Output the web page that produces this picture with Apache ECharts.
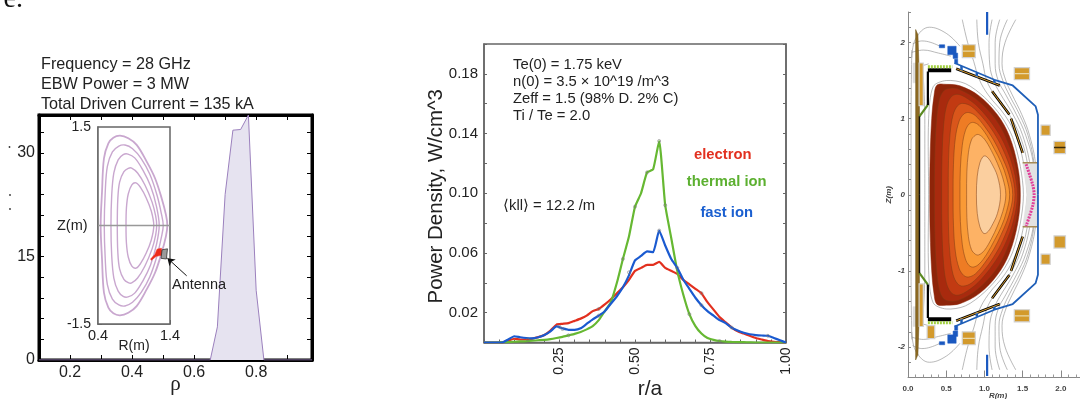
<!DOCTYPE html>
<html>
<head>
<meta charset="utf-8">
<title>EBW power deposition</title>
<script src="https://cdn.jsdelivr.net/npm/echarts@6/dist/echarts.min.js"></script>
<style>
  html, body { margin: 0; padding: 0; background: #fff; }
  #main { width: 1080px; height: 399px; }
</style>
</head>
<body>
<div id="main"></div>
<script>
// left panel: driven current profile
var rho = [0.1, 0.652, 0.675, 0.7, 0.725, 0.75, 0.775, 0.8, 0.825, 0.98];
var drivenCurrent = [0, 0, 4.8, 24, 33.3, 33.4, 35.5, 10.1, 0, 0];
var rhoLabels = [0.2, 0.4, 0.6, 0.8];
var currentLabels = [0, 15, 30];

// inset: flux surfaces, upper half [R, Z], lower half is the mirror image
var surface1 = [[.437,0],[.456,.517],[.483,1.024],[.544,1.252],[.613,1.338],[.706,1.368],[.821,1.328],[.937,1.227],[1.076,.973],[1.192,.72],[1.284,.416],[1.344,.162],[1.363,0]];
var surface2 = [[.487,0],[.5,.5],[.53,.9],[.6,1.12],[.69,1.21],[.775,1.225],[.88,1.17],[1,1.02],[1.12,.78],[1.22,.46],[1.28,.18],[1.306,0]];
var surface3 = [[.58,0],[.59,.45],[.62,.8],[.68,1],[.75,1.08],[.817,1.088],[.91,1.03],[1.02,.85],[1.13,.6],[1.21,.3],[1.25,0]];
var surface4 = [[.668,0],[.675,.4],[.7,.66],[.76,.82],[.82,.87],[.868,.875],[.95,.8],[1.05,.62],[1.15,.36],[1.2,.15],[1.215,0]];
var surface5 = [[.789,0],[.795,.27],[.82,.48],[.87,.62],[.928,.65],[.99,.58],[1.07,.42],[1.14,.22],[1.175,0]];
var midplane = [[.4,0],[1.4,0]];
var rayPath = [[1.13,-.51],[1.19,-.44],[1.22,-.36],[1.28,-.345],[1.3,-.45],[1.21,-.47],[1.14,-.53]];
var antennaBox = [[1.29,-.37],[1.365,-.355],[1.35,-.51],[1.275,-.5]];
var antennaArrow = [[.576,12.2],[.514,14.75]];

// middle panel: power density
var rOverA = [0,.02,.04,.06,.08,.1,.12,.14,.16,.18,.2,.22,.24,.26,.28,.3,.32,.34,.36,.38,.4,.42,.44,.46,.48,.5,.52,.54,.56,.58,.6,.62,.64,.66,.68,.7,.72,.74,.76,.78,.8,.82,.84,.86,.88,.9,.92,.94,.96,.98,1];
var electron = [0,0,0,0,.0012,.0025,.002,.002,.0026,.0036,.005,.008,.012,.0125,.013,.0145,.016,.018,.021,.0225,.0255,.029,.033,.037,.042,.048,.05,.052,.052,.054,.05,.048,.046,.042,.039,.036,.033,.027,.022,.017,.0135,.01,.0075,.006,.0045,.003,.002,.001,.0005,.0002,0];
var thermalIon = [0,0,0,.0002,.0003,.0005,.0007,.0009,.0012,.0015,.0018,.0023,.003,.0038,.0048,.0058,.007,.0088,.011,.015,.021,.027,.04,.056,.071,.091,.1,.114,.116,.135,.092,.07,.048,.032,.019,.011,.006,.003,.0018,.001,.0006,.0004,.0003,.0002,.0001,0,0,0,0,0,0];
var fastIon = [0,0,0,0,.002,.0042,.0035,.003,.0028,.0035,.005,.0075,.0108,.0095,.0085,.0085,.0095,.0125,.0155,.018,.021,.026,.031,.037,.045,.055,.058,.061,.0605,.075,.065,.056,.05,.042,.036,.03,.025,.021,.018,.015,.013,.01,.008,.0065,.0055,.005,.0047,.0045,.003,.0015,0];
var errorMarks = [[.145,.002],[.25,.0105],[.26,.009],[.28,.0048],[.38,.0225],[.38,.018],[.46,.056],[.48,.047],[.5,.091],[.54,.114],[.58,.135],[.58,.075],[.6,.092],[.64,.05],[.68,.019],[.72,.033],[.72,.025],[.78,.001],[.82,.01],[.94,.0045]];
var densityLabels = [.02, .06, .1, .14, .18];
var radiusLabels = [.25, .5, .75, 1];

// right panel: plasma contours, upper half [R, Z], outermost first
var plasmaFills = ['#8e2409', '#a82a0e', '#c23a12', '#d9561b', '#ee7c24', '#f99a36', '#fdb265', '#fbcf9f'];
var contour0 = [[.285,0],[.29,.5],[.31,1],[.34,1.3],[.38,1.44],[.5,1.45],[.68,1.43],[.935,1.295],[1.17,1.05],[1.326,.77],[1.435,.376],[1.47,0]];
var contour1 = [[.345,0],[.35,.5],[.37,.95],[.41,1.25],[.47,1.37],[.56,1.4],[.68,1.38],[.9,1.25],[1.14,1],[1.29,.73],[1.41,.36],[1.45,0]];
var contour2 = [[.44,0],[.445,.5],[.465,.9],[.5,1.15],[.56,1.28],[.64,1.32],[.75,1.28],[.92,1.15],[1.11,.92],[1.26,.67],[1.38,.34],[1.43,0]];
var contour3 = [[.527,0],[.53,.45],[.55,.8],[.59,1.05],[.65,1.17],[.72,1.2],[.83,1.16],[.98,1.01],[1.12,.82],[1.24,.6],[1.35,.31],[1.4,0]];
var contour4 = [[.59,0],[.595,.4],[.62,.75],[.67,.97],[.73,1.06],[.79,1.08],[.88,1.04],[1,.9],[1.12,.72],[1.22,.52],[1.32,.27],[1.37,0]];
var contour5 = [[.68,0],[.685,.35],[.71,.65],[.75,.84],[.8,.93],[.855,.95],[.93,.91],[1.03,.78],[1.13,.6],[1.22,.42],[1.29,.22],[1.33,0]];
var contour6 = [[.767,0],[.77,.3],[.79,.55],[.83,.72],[.88,.78],[.925,.79],[1,.73],[1.09,.58],[1.17,.41],[1.24,.22],[1.28,0]];
var contour7 = [[.895,0],[.906,.245],[.94,.42],[.98,.5],[1.01,.51],[1.05,.48],[1.09,.42],[1.17,.245],[1.21,0]];

// flux lines outside the plasma, from the top of the picture to the midplane
var flux1 = [[.27,0],[.27,1],[.33,1.42],[.5,1.5],[.75,1.46],[1,1.28],[1.22,1.03],[1.37,.75],[1.47,.37],[1.51,0]];
var flux2 = [[.71,2.3],[.78,2],[.86,1.75],[.93,1.52],[1.05,1.31],[1.27,1.04],[1.42,.75],[1.52,.37],[1.56,0]];
var flux3 = [[.9,2.3],[.92,2],[.98,1.72],[1.03,1.5],[1.12,1.33],[1.32,1.06],[1.47,.76],[1.57,.37],[1.61,0]];
var flux4 = [[1.1,2.3],[1.06,2],[1.07,1.7],[1.12,1.5],[1.2,1.34],[1.37,1.06],[1.5,.78],[1.6,.38],[1.64,0]];
var flux5 = [[1.2,2.3],[1.14,2],[1.14,1.72],[1.18,1.5],[1.27,1.33],[1.42,1.05],[1.54,.78],[1.64,.4],[1.66,0]];
var flux6 = [[1.3,2.3],[1.2,2],[1.19,1.72],[1.24,1.5],[1.33,1.3],[1.46,1.05],[1.57,.78],[1.65,.4],[1.67,0]];
var flux7 = [[1.41,2.3],[1.27,2],[1.23,1.72],[1.28,1.5],[1.36,1.32],[1.49,1.05],[1.59,.78],[1.67,.4],[1.69,0]];
var fluxInner = [[.2,1.55],[.22,1],[.22,0]];
var fluxStack = [[.05,1.9],[.04,1],[.04,0]];
var arch1 = [[.05,1.8],[.1,2.05],[.28,2.2],[.5,2.12],[.68,1.95]];
var arch2 = [[.06,1.98],[.18,2.02],[.3,2],[.44,1.94]];
var arch3 = [[.05,1.87],[.2,1.9],[.4,1.86],[.56,1.82]];
var arch4 = [[.07,1.69],[.2,1.7],[.27,1.72]];

// right panel: machine parts, given for the top half and mirrored
var stackBar = [[.1,2.17],[.13,2.1],[.15,1.5],[.15,-1.5],[.13,-2.1],[.1,-2.17]];
var inboardCoil = [[.145,1.73],[.2,1.73],[.2,1.17],[.145,1.17]];
var inboardHalo = [[.065,1.73],[.145,1.73],[.145,1.47],[.065,1.47]];
var lowerCoil = [[.25,-1.72],[.35,-1.72],[.35,-1.89],[.25,-1.89]];
var coilA = [[.71,1.97],[.88,1.97],[.88,1.8],[.71,1.8]];
var coilAGap = [[.71,1.885],[.88,1.885]];
var coilB = [[1.39,1.67],[1.59,1.67],[1.59,1.51],[1.39,1.51]];
var coilBGap = [[1.39,1.59],[1.59,1.59]];
var coilC = [[1.74,.915],[1.86,.915],[1.86,.78],[1.74,.78]];
var coilD = [[1.91,.7],[2.06,.7],[2.06,.54],[1.91,.54]];
var coilDBar = [[1.91,.62],[2.06,.62]];
var portBox = [[1.5,.42],[1.7,.42],[1.7,-.42],[1.5,-.42],[1.56,0]];
var topPlate = [[.26,1.635],[.565,1.635]];
var topPlateCap = [[.26,1.68],[.58,1.68]];
var wallBlack = [[.15,0],[.15,1.03]];
var wallGreen = [[.15,1.03],[.26,1.18]];
var wallUpper = [[.26,1.18],[.26,1.62]];
var plate1 = [[.63,1.655],[1.2,1.435]];
var plate2 = [[1.1,1.36],[1.326,1.055]];
var plate3 = [[1.348,1],[1.5,.55]];
var vessel = [[.61,1.73],[1.13,1.51],[1.37,1.435],[1.67,1.16],[1.7,1.05],[1.7,0]];
var blueStub1 = [[.7,1.69],[.7,1.62]];
var blueStub2 = [[.9,1.6],[.9,1.54]];
var blueStub3 = [[1.13,1.51],[1.13,1.46]];
var blueBlock1 = [[.41,1.97],[.48,1.97],[.48,1.93],[.41,1.93]];
var blueBlock2 = [[.52,1.95],[.63,1.95],[.63,1.84],[.52,1.84]];
var blueBlock3 = [[.59,1.86],[.65,1.86],[.65,1.79],[.59,1.79]];
var blueBlock4 = [[.61,1.78],[.65,1.78],[.65,1.72],[.61,1.72]];
var axisProbeTop = [[1.035,2.4],[1.035,2.1]];
var axisProbeBottom = [[1.035,-2.1],[1.035,-2.38]];
var portEdgeTop = [[1.5,.42],[1.7,.42]];
var portEdgeBottom = [[1.5,-.42],[1.7,-.42]];
var antennaArray = [[1.545,.4],[1.63,.135],[1.65,0],[1.63,-.15],[1.545,-.41]];

var textFont = 'Liberation Sans';
var textColor = '#222';

// lower half of a curve whose upper half is listed from left to right
function closed(upper) {
  var lower = upper.slice(1, -1).reverse().map(function (p) { return [p[0], -p[1]]; });
  return upper.concat(lower);
}

function flip(points) {
  return points.map(function (p) { return [p[0], -p[1]]; });
}

function lineSeries(ax, ay, points, color, width, z, smooth, dash) {
  return {
    type: 'line', xAxisIndex: ax, yAxisIndex: ay, data: points, showSymbol: false, symbol: 'none',
    smooth: smooth || false, silent: true, z: z || 2, animation: false,
    lineStyle: { color: color, width: width, type: dash || 'solid' }
  };
}

function polygonSeries(ax, ay, points, fill, stroke, lineWidth, z, smooth) {
  return {
    type: 'custom', xAxisIndex: ax, yAxisIndex: ay, data: points, silent: true, z: z || 2, animation: false,
    encode: { x: 0, y: 1 },
    renderItem: function (params, api) {
      if (params.dataIndex !== 0) return;
      return {
        type: 'polygon',
        shape: { points: points.map(function (p) { return api.coord(p); }), smooth: smooth || 0 },
        style: { fill: fill, stroke: stroke, lineWidth: lineWidth }
      };
    }
  };
}

function labelOnly(list, digits) {
  return function (value) {
    for (var i = 0; i < list.length; i++) {
      if (Math.abs(list[i] - value) < 1e-6) return digits === undefined ? String(list[i]) : list[i].toFixed(digits);
    }
    return '';
  };
}

function plainAxis(grid, position, min, max, interval, color, tickLen, lineWidth) {
  return {
    type: 'value', gridIndex: grid, position: position, min: min, max: max, interval: interval,
    nameMoveOverlap: false,
    axisLine: { show: true, onZero: false, lineStyle: { color: color, width: lineWidth || 1 } },
    axisTick: { show: true, inside: true, length: tickLen, lineStyle: { color: color, width: 1 } },
    axisLabel: { show: false },
    splitLine: { show: false }
  };
}

function tickFont(axis, formatter, size, margin) {
  axis.axisLabel = {
    show: true, formatter: formatter, fontFamily: textFont, fontSize: size, color: textColor,
    margin: margin, showMaxLabel: true, showMinLabel: true, hideOverlap: false
  };
  return axis;
}

function note(text, x, y, size, extra) {
  var style = { text: text, x: x, y: y, fontFamily: textFont, fontSize: size, fill: textColor, textVerticalAlign: 'middle' };
  for (var k in extra) style[k] = extra[k];
  return { type: 'text', silent: true, z: 50, style: style };
}

function speck(x, y) {
  return { type: 'circle', silent: true, z: 50, shape: { cx: x, cy: y, r: 0.9 }, style: { fill: '#333' } };
}

// axis indexes: 0,1 left panel, 2 inset, 3 middle, 4 right panel (x)
//               0,1 left panel, 2 inset, 3,4 middle, 5 right panel (y)
var xAxes = [
  tickFont(plainAxis(0, 'bottom', 0.1, 0.98, 0.1, '#000', 5, 3), labelOnly(rhoLabels, 1), 16, 5),
  plainAxis(0, 'top', 0.1, 0.98, 0.1, '#000', 5, 3),
  tickFont(plainAxis(1, 'bottom', 0.4, 1.4, 0.2, '#666', 4, 1.5), labelOnly([0.4, 1.4], 1), 14.5, 4),
  tickFont(plainAxis(2, 'bottom', 0, 1, 0.05, '#666', 3, 1.5), labelOnly(radiusLabels, 2), 14, 5),
  tickFont(plainAxis(3, 'bottom', 0, 2.25, 0.5, '#888', 7, 1), labelOnly([0, .5, 1, 1.5, 2], 1), 8, 7)
];
xAxes[0].name = 'ρ';
xAxes[0].nameLocation = 'middle';
xAxes[0].nameGap = 14;
xAxes[0].nameTextStyle = { fontFamily: 'Liberation Serif', fontSize: 21, color: textColor };
xAxes[2].name = 'R(m)';
xAxes[2].nameLocation = 'middle';
xAxes[2].nameGap = 15;
xAxes[2].nameTextStyle = { fontFamily: textFont, fontSize: 14, color: textColor };
xAxes[3].axisLabel.rotate = 90;
xAxes[3].name = 'r/a';
xAxes[3].nameLocation = 'middle';
xAxes[3].nameGap = 36;
xAxes[3].nameTextStyle = { fontFamily: textFont, fontSize: 21, color: textColor, padding: [0, 0, 0, 30] };
xAxes[4].axisLabel.fontWeight = 'bold';
xAxes[4].axisLabel.color = '#444';
xAxes[4].name = 'R(m)';
xAxes[4].nameLocation = 'middle';
xAxes[4].nameGap = 14;
xAxes[4].nameTextStyle = { fontFamily: textFont, fontSize: 8, fontWeight: 'bold', fontStyle: 'italic', color: '#444', padding: [0, 0, 0, 8] };
xAxes[4].minorTick = { show: true, splitNumber: 5, length: 3, lineStyle: { color: '#999' } };

var yAxes = [
  tickFont(plainAxis(0, 'left', 0, 35.5, 3, '#000', 5, 3), labelOnly(currentLabels), 16, 4),
  plainAxis(0, 'right', 0, 35.5, 3, '#000', 5, 3),
  tickFont(plainAxis(1, 'left', -1.5, 1.5, 0.5, '#666', 4, 1.5), labelOnly([-1.5, 1.5], 1), 14, 7),
  tickFont(plainAxis(2, 'left', 0, 0.2, 0.02, '#666', 3, 1.5), labelOnly(densityLabels, 2), 15, 6),
  plainAxis(2, 'right', 0, 0.2, 0.02, '#666', 3, 1.5),
  tickFont(plainAxis(3, 'left', -2.4, 2.4, 0.2, '#888', 3, 1), labelOnly([-2, -1, 0, 1, 2]), 8, 3)
];
yAxes[3].name = 'Power Density, W/cm^3';
yAxes[3].nameLocation = 'middle';
yAxes[3].nameGap = 38;
yAxes[3].nameTextStyle = { fontFamily: textFont, fontSize: 20.4, color: textColor, padding: [0, 6, 0, 0] };
yAxes[5].axisLabel.fontWeight = 'bold';
yAxes[5].axisLabel.fontStyle = 'italic';
yAxes[5].axisLabel.color = '#444';
yAxes[5].name = 'Z(m)';
yAxes[5].nameLocation = 'middle';
yAxes[5].nameGap = 15;
yAxes[5].nameTextStyle = { fontFamily: textFont, fontSize: 8, fontWeight: 'bold', fontStyle: 'italic', color: '#444' };

var series = [];

// left panel
series.push({
  type: 'line', xAxisIndex: 0, yAxisIndex: 0, showSymbol: false, symbol: 'none', animation: false, silent: true,
  data: rho.map(function (r, i) { return [r, drivenCurrent[i]]; }),
  lineStyle: { color: '#9b80bd', width: 1 },
  areaStyle: { color: '#e6e3f0', opacity: 1 }
});
series.push({
  type: 'line', xAxisIndex: 0, yAxisIndex: 0, data: [], silent: true, z: 20, animation: false,
  markLine: {
    silent: true, animation: false, symbol: ['none', 'arrow'], symbolSize: 7, label: { show: false },
    lineStyle: { color: '#111', width: 1, type: 'solid' },
    data: [[{ coord: antennaArrow[0] }, { coord: antennaArrow[1] }]]
  }
});

// inset
[surface1, surface2, surface3, surface4, surface5].forEach(function (s, i) {
  series.push(polygonSeries(2, 2, closed(s), 'none', '#c9a7cf', i === 0 ? 1.8 : 1.4, 5, 0.35));
});
series.push(lineSeries(2, 2, midplane, '#999', 1.5, 6));
series.push(polygonSeries(2, 2, rayPath, '#ee2a1a', '#ee2a1a', 0.5, 7));
series.push(polygonSeries(2, 2, antennaBox, '#9a9a9a', '#333', 0.8, 8));

// middle panel
function profile(values) {
  return rOverA.map(function (r, i) { return [r, values[i]]; });
}
series.push(lineSeries(3, 3, profile(electron), '#e2301f', 2.2, 4, 0.15));
series.push(lineSeries(3, 3, profile(thermalIon), '#66b832', 2.2, 5, 0.15));
series.push(lineSeries(3, 3, profile(fastIon), '#1a5ad0', 2.2, 6, 0.15));
series.push({
  type: 'scatter', xAxisIndex: 3, yAxisIndex: 3, data: errorMarks, symbol: 'circle', symbolSize: 3, silent: true, z: 7, animation: false,
  itemStyle: { color: 'rgba(255,255,255,0)', borderColor: '#777', borderWidth: 0.7 }
});

// right panel, flux lines first so the machine sits on top of them
[flux2, flux3, flux4, flux5, flux6, flux7].forEach(function (f) {
  series.push(lineSeries(4, 5, f, '#8a8a8a', 0.6, 2, 0.4));
  series.push(lineSeries(4, 5, flip(f), '#8a8a8a', 0.6, 2, 0.4));
});
series.push(polygonSeries(4, 5, closed(flux1), 'none', '#8a8a8a', 0.6, 2, 0.3));
[fluxInner, fluxStack, arch1, arch2, arch3, arch4].forEach(function (f) {
  series.push(lineSeries(4, 5, f, '#8a8a8a', 0.6, 2, 0.4));
  series.push(lineSeries(4, 5, flip(f), '#8a8a8a', 0.6, 2, 0.4));
});

[contour0, contour1, contour2, contour3, contour4, contour5, contour6, contour7].forEach(function (c, i) {
  series.push(polygonSeries(4, 5, closed(c), plasmaFills[i], i === 0 ? plasmaFills[0] : '#7a3a15', 0.5, 3 + i * 0.01, 0.35));
});

series.push(polygonSeries(4, 5, portBox, '#e2e2e2', '#e2e2e2', 0.5, 3));
series.push(lineSeries(4, 5, portEdgeTop, '#a68a55', 1.5, 4));
series.push(lineSeries(4, 5, portEdgeBottom, '#a68a55', 1.5, 4));
series.push(lineSeries(4, 5, antennaArray, '#e0409a', 3, 5, 0.3, [2, 1]));

series.push(polygonSeries(4, 5, inboardHalo, '#dedede', '#dedede', 0.5, 3));
series.push(polygonSeries(4, 5, flip(inboardHalo), '#dedede', '#dedede', 0.5, 3));
series.push(polygonSeries(4, 5, stackBar, '#8d6a22', '#6d5218', 0.5, 4));
[inboardCoil, flip(inboardCoil), lowerCoil, coilA, flip(coilA), coilB, flip(coilB), coilC, flip(coilC), coilD, flip(coilD)].forEach(function (c) {
  series.push(polygonSeries(4, 5, c, '#d39a2c', '#d2d2d2', 1.2, 4));
});
[coilAGap, flip(coilAGap), coilBGap, flip(coilBGap)].forEach(function (g) {
  series.push(lineSeries(4, 5, g, '#e9d8a8', 1.2, 5));
});
series.push(lineSeries(4, 5, coilDBar, '#3a2a08', 1.5, 5));

[1, -1].forEach(function (sign) {
  function side(points) { return sign > 0 ? points : flip(points); }
  series.push(lineSeries(4, 5, side(topPlate), '#000', 4, 6));
  series.push(lineSeries(4, 5, side(topPlateCap), '#a2d040', 3, 6, false, [2, 1]));
  series.push(lineSeries(4, 5, side(wallGreen), '#5a8a20', 2.2, 6));
  series.push(lineSeries(4, 5, side(wallUpper), '#000', 2.2, 6));
  series.push(lineSeries(4, 5, side(wallBlack), '#111', 1.5, 6));
  [plate1, plate2, plate3].forEach(function (p) {
    series.push(lineSeries(4, 5, side(p), '#000', 2.6, 6));
    series.push(lineSeries(4, 5, side(p), '#d89a2c', 1, 7));
  });
  series.push(lineSeries(4, 5, side(vessel), '#1f5fb8', 1.8, 6));
  [blueStub1, blueStub2, blueStub3].forEach(function (p) {
    series.push(lineSeries(4, 5, side(p), '#1f5fb8', 2.5, 6));
  });
  [blueBlock1, blueBlock2, blueBlock3, blueBlock4].forEach(function (b) {
    series.push(polygonSeries(4, 5, side(b), '#1a58c0', '#1a58c0', 0.5, 6));
  });
});
series.push(lineSeries(4, 5, axisProbeTop, '#1a58c0', 2.2, 6));
series.push(lineSeries(4, 5, axisProbeBottom, '#1a58c0', 2.2, 6));

var notes = [
  note('e.', 23, 0, 28, { fontFamily: 'Liberation Serif', textAlign: 'right', fill: '#111' }),
  note('Frequency = 28 GHz', 41, 65, 16.2),
  note('EBW Power = 3 MW', 41, 85, 16.2),
  note('Total Driven Current = 135 kA', 41, 105, 16.2),
  note('Z(m)', 57, 225.7, 14.5),
  note('Antenna', 172, 285, 14.5),
  note('Te(0) = 1.75 keV', 513, 64.7, 14.8),
  note('n(0) = 3.5 × 10^19 /m^3', 513, 82, 14.8),
  note('Zeff = 1.5 (98% D. 2% C)', 513, 99, 14.8),
  note('Ti / Te = 2.0', 513, 116, 14.8),
  note('⟨kll⟩ = 12.2 /m', 503, 205.7, 14.8),
  note('electron', 722.7, 155, 14.8, { textAlign: 'center', fontWeight: 'bold', fill: '#e2301f' }),
  note('thermal ion', 726.7, 182, 14.8, { textAlign: 'center', fontWeight: 'bold', fill: '#5cb030' }),
  note('fast ion', 726.7, 212.7, 14.8, { textAlign: 'center', fontWeight: 'bold', fill: '#1a5fd0' }),
  speck(9.5, 147),
  speck(10, 195),
  speck(10, 209)
];

var chart = echarts.init(document.getElementById('main'));
chart.setOption({
  animation: false,
  backgroundColor: '#fff',
  graphic: notes,
  grid: [
    { left: 39, top: 115, width: 273, height: 245, show: true, backgroundColor: '#fff', borderColor: '#000', borderWidth: 3, outerBoundsMode: 'none' },
    { left: 98, top: 127, width: 72, height: 197, show: true, backgroundColor: '#fff', borderColor: '#666', borderWidth: 1.5, z: 3, outerBoundsMode: 'none' },
    { left: 484, top: 44, width: 302, height: 298.5, show: true, backgroundColor: '#fff', borderColor: '#666', borderWidth: 1.5, outerBoundsMode: 'none' },
    { left: 908, top: 12, width: 172, height: 365.5, show: false, outerBoundsMode: 'none' }
  ],
  xAxis: xAxes,
  yAxis: yAxes,
  series: series
});
</script>
</body>
</html>
